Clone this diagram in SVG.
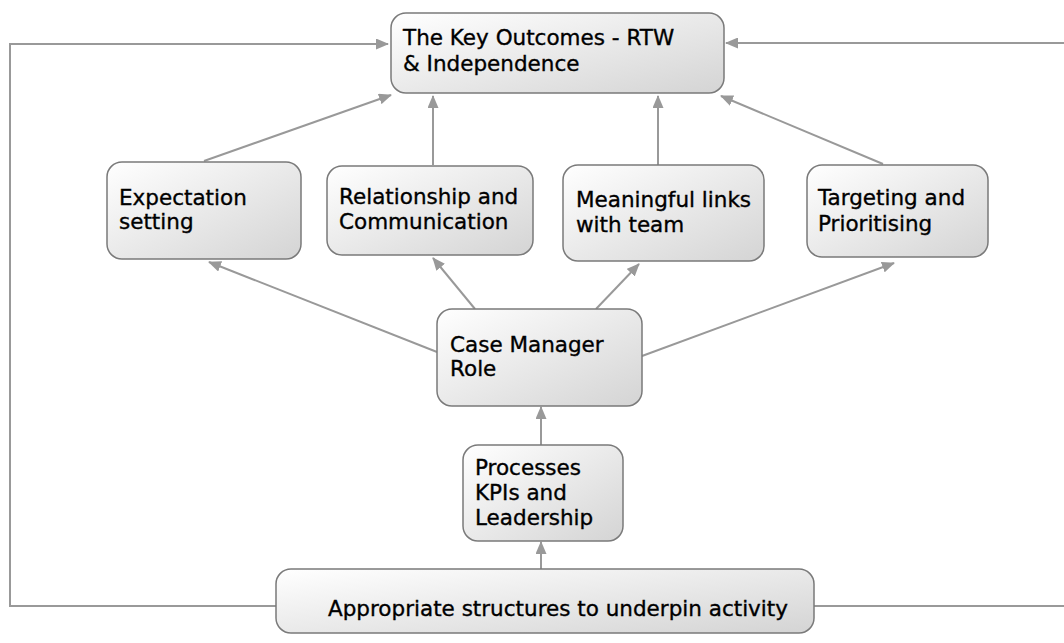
<svg xmlns="http://www.w3.org/2000/svg" width="1064" height="643" viewBox="0 0 1064 643">
  <defs>
    <linearGradient id="boxFill" x1="0" y1="0" x2="1" y2="1">
      <stop offset="0" stop-color="#ffffff"/>
      <stop offset="1" stop-color="#d4d4d4"/>
    </linearGradient>
    <marker id="arrow" viewBox="0 0 13 11" refX="12" refY="5.5" markerWidth="13" markerHeight="11" markerUnits="userSpaceOnUse" orient="auto">
      <path d="M0,0 L13,5.5 L0,11 z" fill="#999999"/>
    </marker>
    <style>
      .box { fill: url(#boxFill); stroke: #7a7a7a; stroke-width: 1.5; }
      .lbl { font-family: "DejaVu Sans", "Liberation Sans", sans-serif; font-size: 21.5px; fill: #000; stroke: #000; stroke-width: 0.35; }
      .conn { fill: none; stroke: #999999; stroke-width: 2; }
      .conn.arr { marker-end: url(#arrow); }
    </style>
  </defs>

  <rect width="1064" height="643" fill="#ffffff"/>

  <!-- connectors -->
  <g id="connectors">
    <path class="conn arr" d="M276,606 H10 V44 H388"/>
    <path class="conn arr" d="M814,606 H1070 V43 H726"/>
    <path class="conn arr" d="M204,161 L391,95"/>
    <path class="conn arr" d="M433,165 L433,96"/>
    <path class="conn arr" d="M658,165 L658,96"/>
    <path class="conn arr" d="M883,164 L721,96"/>
    <path class="conn arr" d="M437,352 L209,262"/>
    <path class="conn arr" d="M475,309 L433,258"/>
    <path class="conn arr" d="M596,309 L639,264"/>
    <path class="conn arr" d="M642,356 L894,263"/>
    <path class="conn arr" d="M541,445 L541,407"/>
    <path class="conn arr" d="M541,569 L541,542"/>
  </g>

  <g id="node-outcomes">
    <rect class="box" x="391" y="13" width="333" height="80" rx="15"/>
    <text class="lbl" x="403" y="45">The Key Outcomes - RTW</text>
    <text class="lbl" x="403" y="71">&amp; Independence</text>
  </g>

  <g id="node-expectation">
    <rect class="box" x="107" y="162" width="194" height="97" rx="15"/>
    <text class="lbl" x="119" y="205">Expectation</text>
    <text class="lbl" x="119" y="229">setting</text>
  </g>

  <g id="node-relationship">
    <rect class="box" x="327" y="166" width="206" height="89" rx="15"/>
    <text class="lbl" x="339" y="204">Relationship and</text>
    <text class="lbl" x="339" y="229">Communication</text>
  </g>

  <g id="node-links">
    <rect class="box" x="563" y="165" width="201" height="96" rx="15"/>
    <text class="lbl" x="576" y="207">Meaningful links</text>
    <text class="lbl" x="576" y="232">with team</text>
  </g>

  <g id="node-targeting">
    <rect class="box" x="807" y="165" width="181" height="92" rx="15"/>
    <text class="lbl" x="818" y="205">Targeting and</text>
    <text class="lbl" x="818" y="231">Prioritising</text>
  </g>

  <g id="node-case-manager">
    <rect class="box" x="437" y="309" width="205" height="97" rx="15"/>
    <text class="lbl" x="450" y="352">Case Manager</text>
    <text class="lbl" x="450" y="376">Role</text>
  </g>

  <g id="node-processes">
    <rect class="box" x="463" y="445" width="160" height="96" rx="15"/>
    <text class="lbl" x="475" y="475">Processes</text>
    <text class="lbl" x="475" y="500">KPIs and</text>
    <text class="lbl" x="475" y="525">Leadership</text>
  </g>

  <g id="node-structures">
    <rect class="box" x="276" y="569" width="538" height="64" rx="15"/>
    <text class="lbl" x="328" y="616">Appropriate structures to underpin activity</text>
  </g>
</svg>
